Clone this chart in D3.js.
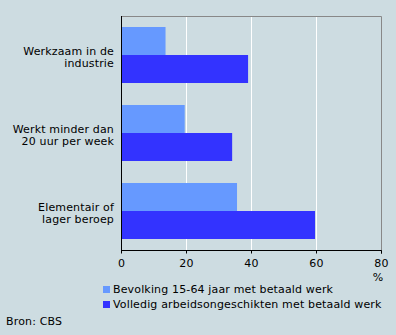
<!DOCTYPE html>
<html>
<head>
<meta charset="utf-8">
<script src="https://cdn.jsdelivr.net/npm/d3@7"></script>
<style>
  body { margin: 0; background: #cddce1; }
  svg { display: block; font-family: "DejaVu Sans", Verdana, sans-serif; font-size: 11px; letter-spacing: 0.15px; }
  .grid { stroke: #ffffff; stroke-width: 1; }
</style>
</head>
<body>
<div class="container"></div>
<script>
const WIDTH = 396;
const HEIGHT = 335;

// data
const categories = [
  ["Werkzaam in de", "industrie"],
  ["Werkt minder dan", "20 uur per week"],
  ["Elementair of", "lager beroep"]
];
const seriesNames = [
  "Bevolking 15-64 jaar met betaald werk",
  "Volledig arbeidsongeschikten met betaald werk"
];
const bevolking = [13.7, 19.6, 35.7];
const arbeidsongeschikt = [39.1, 34.2, 59.7];
const xTicks = [0, 20, 40, 60, 80];
const colors = ["#6699ff", "#3333ff"];
const source = "Bron: CBS";

const LEFT = 121, RIGHT = 381, TOP = 16, BOTTOM = 250;

var translate = function(x, y){
  return "translate(" + x + "," + y + ")";
};

var svg = d3.select('.container').append('svg')
  .attr('width', WIDTH)
  .attr('height', HEIGHT);

svg.append('rect')
  .attr('width', WIDTH).attr('height', HEIGHT)
  .attr('fill', '#cddce1');

var xScale = d3.scaleLinear()
  .domain([0, 80])
  .range([LEFT, RIGHT]);

var yScale = d3.scaleBand()
  .domain(d3.range(categories.length))
  .range([TOP, BOTTOM])
  .paddingInner(0.282)
  .paddingOuter(0.141);

var inner = d3.scaleBand()
  .domain([0, 1])
  .range([0, yScale.bandwidth()]);

// grid lines
svg.selectAll('.grid')
  .data(xTicks.slice(1, -1))
  .enter().append('line')
  .classed('grid', true)
  .attr('x1', d => Math.round(xScale(d)) + 0.5)
  .attr('x2', d => Math.round(xScale(d)) + 0.5)
  .attr('y1', TOP)
  .attr('y2', BOTTOM);

// frame top/right
svg.append('path')
  .attr('d', "M" + (LEFT) + "," + (TOP + 0.5) + "H" + (RIGHT + 0.5) + "V" + BOTTOM)
  .attr('fill', 'none')
  .attr('stroke', '#888888');

// bars
var series = [bevolking, arbeidsongeschikt];
series.forEach(function(vals, s){
  svg.append('g').selectAll('rect')
    .data(vals)
    .enter().append('rect')
    .attr('x', LEFT)
    .attr('y', (d, i) => yScale(i) + inner(s))
    .attr('width', d => xScale(d) - LEFT)
    .attr('height', inner.bandwidth())
    .attr('fill', colors[s]);
});

// x axis
var xAxis = d3.axisBottom(xScale)
  .tickValues(xTicks)
  .tickSize(3)
  .tickPadding(6);

var gx = svg.append('g')
  .attr('transform', translate(0, BOTTOM + 0.5))
  .call(xAxis);
gx.select('.domain').attr('stroke', '#000').attr('d', "M" + LEFT + ",0H" + (RIGHT + 0.5) + "V3");
gx.selectAll('.tick line').attr('stroke', '#000');
gx.selectAll('.tick text')
  .attr('fill', '#000')
  .style('font-size', '11px')
  .style('font-family', '"DejaVu Sans", Verdana, sans-serif');

svg.append('text')
  .attr('x', xScale(80) - 3)
  .attr('y', 281)
  .attr('text-anchor', 'middle')
  .text('%');

// y axis line
svg.append('line')
  .attr('x1', LEFT + 0.5).attr('x2', LEFT + 0.5)
  .attr('y1', TOP).attr('y2', BOTTOM + 1)
  .attr('stroke', '#000');

// category labels
categories.forEach(function(lines, i){
  var c = yScale(i) + yScale.bandwidth() / 2;
  var t = svg.append('text')
    .attr('text-anchor', 'end')
    .attr('fill', '#000');
  lines.forEach(function(l, j){
    t.append('tspan')
      .attr('x', 114)
      .attr('y', c - 0.5 + j * 12.5)
      .text(l);
  });
});

// legend
seriesNames.forEach(function(name, i){
  var y = 286 + i * 15;
  svg.append('rect')
    .attr('x', 103).attr('y', y)
    .attr('width', 7).attr('height', 7)
    .attr('fill', colors[i]);
  svg.append('text')
    .attr('x', 113)
    .attr('y', y + 7)
    .text(name);
});

svg.append('text')
  .attr('x', 6)
  .attr('y', 325)
  .text(source);
</script>
</body>
</html>
